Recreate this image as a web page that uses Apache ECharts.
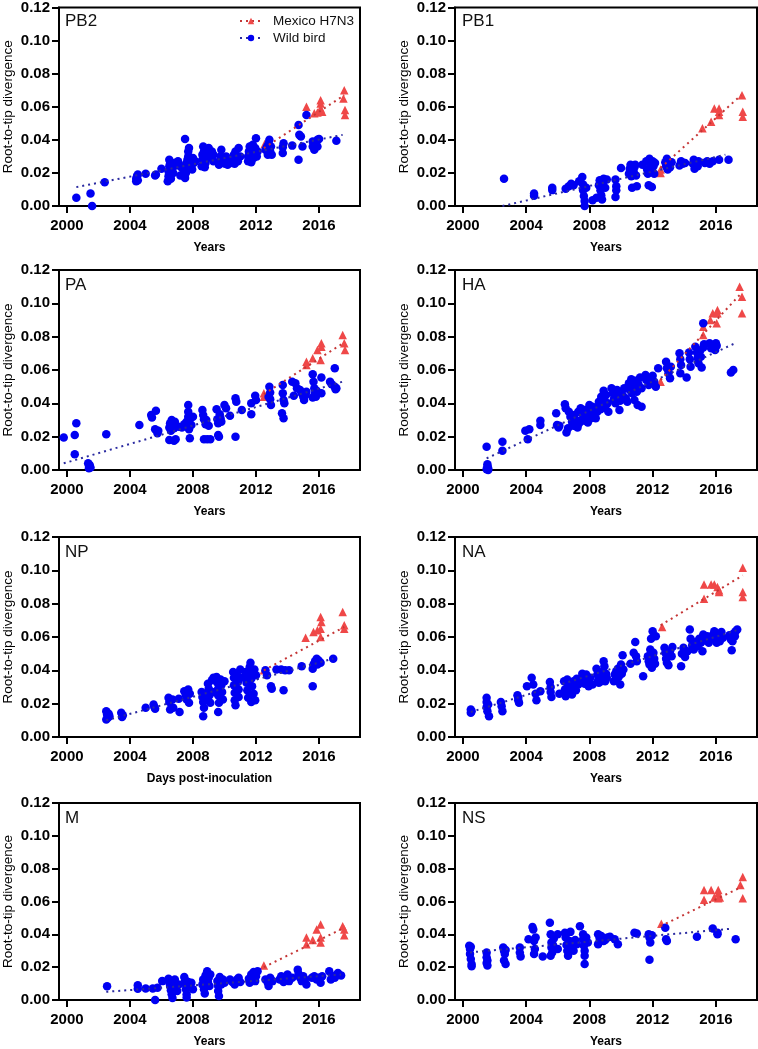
<!DOCTYPE html>
<html>
<head>
<meta charset="utf-8">
<script src="https://cdn.jsdelivr.net/npm/echarts@6/dist/echarts.min.js"></script>
<style>
html,body{margin:0;padding:0;background:#fff;}
#chart{width:758px;height:1049px;}
</style>
</head>
<body>
<div id="chart"></div>
<script>
// ---------------- DATA ----------------
const yearTicks = [2000, 2004, 2008, 2012, 2016];
const seriesNames = ['Mexico H7N3', 'Wild bird'];
const panelLabels = ['PB2', 'PB1', 'PA', 'HA', 'NP', 'NA', 'M', 'NS'];
const xAxisNames = ['Years', 'Years', 'Years', 'Years', 'Days post-inoculation', 'Years', 'Years', 'Years'];
const yAxisName = 'Root-to-tip divergence';

// PB2
const pb2Wild = [[2000.6,0.005],[2001.5,0.0076],[2001.6,0.0],[2002.4,0.0143],
[2004.4,0.015],[2004.4,0.0165],[2004.45,0.018],[2004.5,0.0155],[2004.5,0.019],
[2005.0,0.0195],[2005.6,0.0185],[2005.65,0.019],[2006.0,0.0225],
[2006.4,0.015],[2006.45,0.018],[2006.45,0.021],[2006.5,0.024],[2006.5,0.028],[2006.55,0.026],[2006.6,0.0165],[2006.65,0.022],[2006.75,0.02],[2006.85,0.026],[2006.95,0.0245],[2007.05,0.027],[2007.15,0.025],[2007.2,0.0185],[2007.3,0.023],
[2007.5,0.0405],[2007.5,0.017],[2007.55,0.02],[2007.6,0.023],[2007.6,0.026],[2007.65,0.028],[2007.7,0.030],[2007.7,0.033],[2007.75,0.035],[2007.8,0.024],[2007.85,0.027],[2007.95,0.022],[2008.0,0.029],[2008.05,0.026],[2008.15,0.027],
[2008.55,0.024],[2008.6,0.028],[2008.6,0.031],[2008.65,0.036],[2008.7,0.033],[2008.8,0.026],[2008.9,0.029],[2009.0,0.032],[2009.0,0.035],[2009.1,0.030],[2009.2,0.033],[2009.3,0.027],[2009.3,0.031],[2008.75,0.0235],
[2009.65,0.025],[2009.7,0.027],[2009.75,0.030],[2009.8,0.034],[2009.9,0.026],[2010.0,0.028],[2010.1,0.030],[2010.2,0.025],[2010.3,0.027],[2010.05,0.0255],
[2010.5,0.026],[2010.55,0.028],[2010.6,0.031],[2010.7,0.033],[2010.8,0.029],[2010.85,0.027],[2010.9,0.035],[2011.0,0.030],[2010.65,0.0255],
[2011.5,0.027],[2011.5,0.030],[2011.55,0.033],[2011.6,0.036],[2011.65,0.028],[2011.7,0.031],[2011.75,0.034],[2011.8,0.037],[2011.85,0.029],[2011.9,0.032],[2011.95,0.035],[2012.0,0.041],[2012.05,0.030],[2012.1,0.033],[2011.7,0.0265],
[2012.6,0.034],[2012.7,0.036],[2012.75,0.031],[2012.8,0.038],[2012.85,0.040],[2012.9,0.033],[2012.95,0.036],[2013.0,0.031],
[2013.7,0.032],[2013.7,0.0355],[2013.75,0.038],[2014.3,0.0365],
[2014.7,0.049],[2014.75,0.043],[2014.85,0.042],[2014.7,0.028],[2014.95,0.036],[2015.2,0.055],
[2015.6,0.036],[2015.6,0.039],[2015.7,0.034],[2015.8,0.038],[2015.9,0.036],[2015.9,0.040],[2016.0,0.0405],[2017.1,0.0395]];
const pb2Mexico = [[2012.55,0.0375],[2012.55,0.035],[2015.2,0.060],[2015.7,0.056],[2015.9,0.0565],[2016.1,0.064],[2016.1,0.062],[2016.1,0.059],[2016.2,0.057],[2017.6,0.070],[2017.55,0.065],[2017.65,0.058],[2017.65,0.055]];
const pb2WildTrend = [[2000.6,0.0114],[2017.5,0.043]];
const pb2MexicoTrend = [[2012.5,0.035],[2017.6,0.067]];

// PB1
const pb1Wild = [[2002.6,0.0165],[2004.5,0.0075],[2004.5,0.0062],[2005.65,0.011],[2005.65,0.0096],
[2006.5,0.0105],[2006.7,0.012],[2006.85,0.0135],[2007.0,0.0125],[2007.35,0.015],
[2007.55,0.0175],[2007.6,0.013],[2007.6,0.0095],[2007.65,0.006],[2007.7,0.003],[2007.7,0.0],[2007.8,0.011],
[2008.2,0.0035],[2008.45,0.005],[2008.6,0.0125],[2008.65,0.0155],[2008.7,0.0095],[2008.75,0.0065],[2008.8,0.004],[2008.85,0.0135],[2008.9,0.0165],[2009.1,0.016],[2009.0,0.011],
[2009.65,0.016],[2009.7,0.012],[2009.7,0.0095],[2009.65,0.0055],[2010.0,0.023],
[2010.5,0.0195],[2010.55,0.0225],[2010.6,0.025],[2010.65,0.018],[2010.7,0.011],[2010.8,0.0205],[2010.85,0.0235],[2010.9,0.025],[2010.95,0.0185],[2011.0,0.012],
[2011.35,0.025],[2011.6,0.027],[2011.65,0.022],[2011.7,0.0195],[2011.75,0.0125],[2011.8,0.0285],[2011.85,0.025],[2011.9,0.0215],[2011.95,0.0115],[2012.0,0.027],[2012.05,0.024],[2012.1,0.0195],[2012.15,0.026],
[2012.8,0.0265],[2012.85,0.024],[2012.9,0.0285],[2012.95,0.022],[2013.0,0.027],[2013.05,0.0255],[2013.1,0.0235],[2013.2,0.0265],
[2013.7,0.0245],[2013.8,0.027],[2013.9,0.0255],[2014.05,0.026],
[2014.55,0.0255],[2014.6,0.028],[2014.65,0.0225],[2014.7,0.0265],[2014.85,0.024],[2014.9,0.027],
[2015.3,0.026],[2015.45,0.027],[2015.6,0.0255],[2015.8,0.027],[2016.2,0.028],[2016.8,0.028]];
const pb1Mexico = [[2012.5,0.022],[2012.5,0.020],[2015.15,0.047],[2015.7,0.051],[2015.9,0.059],[2016.2,0.059],[2016.2,0.057],[2016.2,0.055],[2017.65,0.067],[2017.7,0.057],[2017.7,0.054]];
const pb1WildTrend = [[2002.5,0.0],[2016.6,0.031]];
const pb1MexicoTrend = [[2012.5,0.023],[2017.6,0.067]];

// PA
const paWild = [[1999.8,0.0195],[2000.5,0.0095],[2000.5,0.021],[2000.6,0.028],
[2001.35,0.004],[2001.4,0.0025],[2001.4,0.001],[2001.45,0.003],[2001.5,0.0015],
[2002.5,0.0215],[2004.6,0.027],
[2005.35,0.033],[2005.4,0.0315],[2005.65,0.0355],[2005.6,0.0245],[2005.75,0.022],[2005.8,0.0235],
[2006.5,0.018],[2006.5,0.0255],[2006.55,0.028],[2006.6,0.0235],[2006.65,0.03],[2006.7,0.027],[2006.8,0.0175],[2006.8,0.025],[2006.85,0.029],[2006.9,0.0185],
[2007.1,0.026],[2007.3,0.0255],[2007.45,0.0275],[2007.55,0.0265],[2007.6,0.029],[2007.7,0.039],[2007.7,0.035],[2007.7,0.032],[2007.75,0.0285],[2007.75,0.0245],[2007.8,0.019],[2007.85,0.031],[2007.9,0.027],[2008.0,0.032],
[2008.6,0.036],[2008.65,0.033],[2008.7,0.0305],[2008.7,0.0185],[2008.8,0.0275],[2008.85,0.03],[2008.9,0.0185],[2009.0,0.0265],[2009.1,0.0185],
[2009.5,0.0365],[2009.55,0.0305],[2009.6,0.028],[2009.6,0.021],[2009.7,0.0335],[2009.75,0.031],[2009.8,0.029],[2009.65,0.02],
[2010.0,0.039],[2010.1,0.037],[2010.35,0.0325],[2010.7,0.043],[2010.75,0.041],[2010.7,0.020],[2011.1,0.036],
[2011.7,0.040],[2011.7,0.0335],[2011.95,0.0445],[2012.0,0.042],
[2012.85,0.050],[2012.9,0.0465],[2012.9,0.0425],[2012.95,0.039],[2012.8,0.044],
[2013.7,0.051],[2013.7,0.046],[2013.75,0.042],[2013.65,0.034],[2013.75,0.031],[2013.8,0.040],
[2014.3,0.053],[2014.5,0.052],[2014.4,0.0445],[2014.6,0.049],
[2014.8,0.048],[2014.9,0.046],[2015.0,0.044],[2015.05,0.042],[2015.15,0.045],[2015.2,0.047],
[2015.6,0.0575],[2015.65,0.053],[2015.7,0.049],[2015.75,0.046],[2015.8,0.044],[2015.6,0.0435],[2015.85,0.0475],
[2016.15,0.0555],[2016.15,0.046],[2016.7,0.053],[2016.8,0.0515],[2017.0,0.061],[2017.0,0.050],[2017.1,0.049],[2017.05,0.0485]];
const paMexico = [[2012.5,0.046],[2012.5,0.044],[2015.2,0.065],[2015.2,0.063],[2015.6,0.067],[2015.9,0.072],[2016.1,0.066],[2016.15,0.076],[2016.15,0.074],[2017.5,0.081],[2017.6,0.076],[2017.65,0.072]];
const paWildTrend = [[1999.8,0.004],[2017.5,0.053]];
const paMexicoTrend = [[2012.5,0.0455],[2017.6,0.0765]];

// HA
const haWild = [[2001.5,0.014],[2001.55,0.0035],[2001.55,0.002],[2001.5,0.0005],[2001.6,0.0],[2001.6,0.001],
[2002.5,0.017],[2002.5,0.0115],
[2003.95,0.0235],[2004.1,0.0185],[2004.2,0.0245],[2004.9,0.0295],[2004.9,0.027],
[2005.9,0.034],[2005.95,0.027],[2006.05,0.0255],[2006.1,0.0265],
[2006.45,0.0395],[2006.5,0.037],[2006.55,0.0225],[2006.65,0.025],
[2006.7,0.035],[2006.8,0.032],[2006.9,0.029],[2007.0,0.0265],[2007.05,0.033],[2007.15,0.030],[2007.25,0.0255],[2007.3,0.035],[2007.35,0.028],
[2007.45,0.037],[2007.55,0.034],[2007.6,0.031],[2007.7,0.0295],[2007.75,0.036],[2007.85,0.033],[2007.9,0.0285],[2008.0,0.039],[2008.05,0.035],[2008.1,0.031],[2008.2,0.038],[2008.2,0.033],
[2008.4,0.031],[2008.5,0.035],[2008.55,0.038],[2008.6,0.041],[2008.7,0.0365],[2008.75,0.044],[2008.8,0.0395],[2008.9,0.0475],[2008.95,0.042],[2009.0,0.037],[2009.05,0.045],[2009.15,0.040],[2009.2,0.035],
[2009.4,0.049],[2009.5,0.046],[2009.55,0.0425],[2009.65,0.040],[2009.75,0.048],[2009.8,0.044],[2009.9,0.036],[2009.95,0.0415],[2010.1,0.045],[2010.2,0.049],[2010.3,0.043],[2010.4,0.041],
[2010.5,0.052],[2010.55,0.048],[2010.65,0.0545],[2010.7,0.046],[2010.8,0.050],[2010.85,0.042],[2010.9,0.0535],[2011.0,0.047],[2011.05,0.039],[2011.1,0.0515],[2011.2,0.0555],[2011.3,0.049],[2011.3,0.038],
[2011.55,0.057],[2011.6,0.054],[2011.75,0.051],[2011.85,0.055],[2012.0,0.0565],[2012.1,0.053],[2012.2,0.050],
[2012.35,0.061],[2012.85,0.065],[2012.9,0.061],[2013.0,0.058],[2013.1,0.055],[2013.15,0.062],
[2013.7,0.070],[2013.75,0.0665],[2013.8,0.063],[2013.75,0.058],[2014.15,0.0555],[2014.3,0.0705],[2014.35,0.0665],[2014.4,0.062],
[2014.7,0.074],[2014.8,0.0705],[2014.85,0.067],[2014.9,0.064],[2015.0,0.0715],[2015.05,0.068],[2015.1,0.0615],[2015.2,0.0735],[2015.25,0.0755],[2015.2,0.088],
[2015.6,0.076],[2015.7,0.073],[2015.8,0.0745],[2015.95,0.072],[2016.0,0.076],[2016.05,0.0745],
[2016.95,0.0585],[2017.1,0.060]];
const haMexico = [[2012.5,0.053],[2015.2,0.081],[2015.2,0.086],[2015.65,0.090],[2015.8,0.094],[2016.1,0.096],[2016.1,0.094],[2016.05,0.088],[2017.5,0.110],[2017.65,0.104],[2017.65,0.094]];
const haWildTrend = [[2001.5,0.007],[2017.2,0.076]];
const haMexicoTrend = [[2012.5,0.054],[2017.6,0.106]];

// NP
const npWild = [[2002.5,0.0155],[2002.55,0.0135],[2002.6,0.0115],[2002.5,0.0105],[2002.7,0.0125],[2002.65,0.014],
[2003.45,0.0145],[2003.5,0.012],[2003.55,0.013],
[2005.0,0.0175],[2005.5,0.0195],[2005.6,0.017],[2005.55,0.018],
[2006.45,0.0235],[2006.5,0.021],[2006.55,0.0165],[2006.7,0.0225],[2006.75,0.0175],
[2007.1,0.023],[2007.15,0.015],
[2007.45,0.0275],[2007.55,0.025],[2007.6,0.0225],[2007.7,0.0285],[2007.75,0.0205],[2007.8,0.026],
[2008.55,0.027],[2008.6,0.024],[2008.65,0.021],[2008.7,0.0175],[2008.65,0.0125],[2008.8,0.0225],[2008.85,0.0255],
[2008.95,0.032],[2009.0,0.029],[2009.05,0.025],[2009.1,0.0205],[2009.2,0.034],[2009.25,0.027],[2009.3,0.0355],
[2009.5,0.036],[2009.55,0.0325],[2009.6,0.029],[2009.6,0.025],[2009.65,0.0205],[2009.6,0.015],[2009.75,0.0345],[2009.8,0.031],[2009.85,0.027],[2009.9,0.0225],[2010.0,0.0335],
[2010.55,0.039],[2010.6,0.0355],[2010.6,0.031],[2010.65,0.0265],[2010.65,0.022],[2010.7,0.019],[2010.8,0.037],[2010.85,0.033],[2010.9,0.0285],[2010.9,0.024],[2011.0,0.0405],[2011.05,0.0355],
[2011.3,0.036],[2011.35,0.039],[2011.4,0.0325],[2011.45,0.028],[2011.5,0.0235],[2011.55,0.0375],[2011.6,0.042],[2011.65,0.0445],[2011.7,0.035],[2011.7,0.021],[2011.75,0.0305],[2011.8,0.0385],[2011.85,0.026],[2011.9,0.0405],[2011.95,0.022],[2012.0,0.037],
[2012.6,0.040],[2012.7,0.037],[2013.0,0.029],[2012.95,0.0305],[2013.3,0.0405],[2013.6,0.0405],[2013.75,0.028],[2013.85,0.040],[2014.1,0.040],
[2014.9,0.0425],[2015.6,0.0305],
[2015.6,0.041],[2015.65,0.0435],[2015.75,0.0455],[2015.85,0.047],[2015.9,0.0435],[2015.95,0.046],[2016.05,0.045],[2016.1,0.0445],[2016.9,0.047]];
const npMexico = [[2012.5,0.040],[2015.15,0.0595],[2015.65,0.063],[2015.9,0.064],[2016.1,0.072],[2016.15,0.069],[2016.1,0.065],[2016.1,0.060],[2017.5,0.075],[2017.6,0.067],[2017.6,0.065]];
const npWildTrend = [[2002.5,0.010],[2016.9,0.047]];
const npMexicoTrend = [[2012.5,0.040],[2017.6,0.066]];

// NA
const naWild = [[2000.5,0.0165],[2000.5,0.0145],[2000.55,0.0155],
[2001.5,0.0235],[2001.5,0.021],[2001.5,0.018],[2001.55,0.0155],[2001.65,0.0125],[2001.6,0.0195],
[2002.4,0.021],[2002.45,0.0185],[2002.5,0.0155],
[2003.45,0.025],[2003.5,0.022],[2003.55,0.0205],[2003.5,0.0235],
[2004.05,0.0305],[2004.35,0.0355],[2004.45,0.0315],[2004.6,0.026],[2004.65,0.022],[2004.9,0.0275],
[2005.5,0.033],[2005.55,0.030],[2005.55,0.027],[2005.6,0.024],[2006.1,0.026],
[2006.4,0.0335],[2006.45,0.0285],[2006.5,0.0245],[2006.6,0.0345],[2006.65,0.031],[2006.7,0.027],[2006.8,0.0325],[2006.85,0.0295],[2006.9,0.0255],[2007.0,0.0335],[2007.05,0.031],[2007.15,0.028],[2007.2,0.035],[2007.3,0.0315],
[2007.55,0.038],[2007.6,0.0345],[2007.7,0.032],[2007.8,0.0375],[2007.85,0.033],[2007.95,0.0305],[2008.05,0.0355],[2008.2,0.0315],
[2008.45,0.041],[2008.5,0.0375],[2008.55,0.034],[2008.6,0.0325],[2008.7,0.036],[2008.75,0.0335],[2008.8,0.039],[2008.9,0.0455],[2008.95,0.0425],[2009.0,0.0335],[2009.05,0.038],[2009.1,0.0355],
[2009.55,0.0335],[2009.6,0.0375],[2009.7,0.0395],[2009.8,0.041],[2009.85,0.036],[2009.95,0.0315],[2010.0,0.0435],[2010.05,0.038],[2010.1,0.049],[2010.15,0.0405],
[2010.6,0.044],[2010.8,0.0505],[2010.9,0.057],[2010.95,0.0485],[2011.0,0.0455],
[2011.4,0.0365],[2011.7,0.0485],[2011.75,0.0455],[2011.8,0.0435],[2011.85,0.0525],[2011.9,0.059],[2011.95,0.0415],[2012.0,0.0635],[2012.05,0.0505],[2012.1,0.047],[2012.15,0.044],[2012.2,0.0605],
[2012.75,0.0535],[2012.8,0.0505],[2012.85,0.047],[2012.9,0.0445],[2013.0,0.043],[2013.1,0.0515],[2013.2,0.0485],[2013.25,0.054],
[2013.8,0.0425],[2013.85,0.050],[2013.95,0.0535],[2014.05,0.048],[2014.2,0.0515],
[2014.35,0.0645],[2014.4,0.059],[2014.5,0.055],[2014.6,0.0525],[2014.75,0.057],[2014.85,0.0545],[2014.95,0.059],[2015.05,0.0565],[2015.15,0.0515],[2015.2,0.0615],[2015.3,0.058],[2015.45,0.0605],[2015.55,0.0565],[2015.65,0.059],[2015.8,0.061],
[2015.9,0.0635],[2016.0,0.0585],[2016.05,0.0565],[2016.1,0.062],[2016.2,0.0605],[2016.25,0.0575],[2016.35,0.063],[2016.45,0.0595],
[2016.85,0.061],[2016.95,0.0585],[2017.0,0.052],[2017.05,0.0575],[2017.1,0.062],[2017.2,0.0605],[2017.25,0.0635],[2017.35,0.0645]];
const naMexico = [[2012.6,0.066],[2015.25,0.083],[2015.25,0.0915],[2015.7,0.0915],[2015.9,0.0915],[2016.1,0.090],[2016.2,0.088],[2016.2,0.087],[2017.7,0.1015],[2017.7,0.087],[2017.7,0.084]];
const naWildTrend = [[2000.5,0.015],[2017.3,0.064]];
const naMexicoTrend = [[2012.5,0.067],[2017.7,0.097]];

// M
const mWild = [[2002.55,0.0084],[2004.5,0.009],[2004.5,0.0068],[2005.0,0.007],[2005.45,0.007],[2005.6,0.0],[2005.75,0.0075],
[2006.05,0.0115],[2006.45,0.013],[2006.5,0.0105],[2006.55,0.0085],[2006.6,0.006],[2006.65,0.0035],[2006.7,0.0012],[2006.75,0.0095],[2006.85,0.0125],[2006.9,0.0075],[2007.0,0.0055],[2007.1,0.0095],
[2007.45,0.014],[2007.5,0.012],[2007.55,0.0095],[2007.55,0.0065],[2007.6,0.0035],[2007.6,0.0015],[2007.7,0.011],[2007.8,0.008],[2007.9,0.0105],[2008.0,0.0065],
[2008.6,0.0095],[2008.65,0.0125],[2008.7,0.0065],[2008.75,0.004],[2008.8,0.015],[2008.9,0.0175],[2008.95,0.011],[2009.0,0.0135],[2009.05,0.0085],[2009.1,0.0155],
[2009.55,0.0115],[2009.6,0.0085],[2009.6,0.0055],[2009.65,0.0025],[2009.7,0.014],[2009.8,0.0095],[2009.9,0.0125],[2010.0,0.0105],
[2010.35,0.0125],[2010.5,0.011],[2010.65,0.0095],[2010.8,0.0125],[2011.0,0.011],[2010.9,0.0135],
[2011.55,0.013],[2011.6,0.0105],[2011.7,0.0155],[2011.75,0.012],[2011.85,0.017],[2011.95,0.0115],[2012.0,0.0145],[2012.1,0.0175],
[2012.6,0.0125],[2012.75,0.0105],[2012.8,0.0085],[2012.9,0.0135],[2013.05,0.0115],
[2013.5,0.0125],[2013.6,0.0145],[2013.75,0.011],[2013.9,0.0135],[2014.0,0.0155],[2014.1,0.0115],[2014.3,0.0135],
[2014.65,0.0185],[2014.7,0.016],[2014.8,0.0135],[2014.9,0.0115],[2015.0,0.0145],[2015.1,0.0125],[2015.2,0.0095],
[2015.55,0.0135],[2015.7,0.0145],[2015.85,0.0125],[2016.0,0.0135],[2016.1,0.0105],[2016.2,0.0145],
[2016.65,0.0175],[2016.75,0.0125],[2016.9,0.0145],[2017.0,0.0135],[2017.2,0.0165],[2017.4,0.015]];
const mMexico = [[2012.5,0.021],[2015.2,0.038],[2015.2,0.034],[2015.6,0.0365],[2015.85,0.043],[2016.1,0.046],[2016.1,0.038],[2016.1,0.035],[2017.5,0.045],[2017.6,0.043],[2017.6,0.0395]];
const mWildTrend = [[2002.5,0.005],[2017.4,0.0155]];
const mMexicoTrend = [[2012.5,0.020],[2017.6,0.044]];

// NS
const nsWild = [[2000.4,0.033],[2000.45,0.031],[2000.45,0.028],[2000.5,0.025],[2000.55,0.022],[2000.55,0.0205],[2000.5,0.0325],
[2001.5,0.029],[2001.5,0.026],[2001.55,0.024],[2001.55,0.021],[2001.5,0.0225],
[2002.55,0.032],[2002.6,0.030],[2002.65,0.028],[2002.6,0.024],[2002.7,0.022],[2002.7,0.0305],
[2003.6,0.032],[2003.6,0.029],[2003.65,0.0265],
[2004.15,0.037],[2004.4,0.0445],[2004.45,0.043],[2004.5,0.036],[2004.55,0.031],[2004.5,0.028],[2004.6,0.038],
[2005.05,0.0265],
[2005.5,0.047],[2005.55,0.040],[2005.6,0.035],[2005.6,0.032],[2005.65,0.029],[2005.55,0.027],[2005.7,0.0335],[2005.75,0.0375],
[2006.0,0.040],[2006.0,0.031],
[2006.45,0.041],[2006.5,0.038],[2006.55,0.0335],[2006.6,0.030],[2006.65,0.027],[2006.75,0.036],[2006.8,0.0415],[2006.85,0.032],[2006.9,0.0345],[2007.0,0.030],[2007.1,0.0365],[2007.2,0.034],
[2007.4,0.045],[2007.6,0.040],[2007.6,0.037],[2007.65,0.033],[2007.7,0.030],[2007.7,0.027],[2007.7,0.022],[2007.8,0.038],[2007.9,0.035],
[2008.55,0.040],[2008.55,0.034],[2008.65,0.0375],[2008.75,0.039],[2008.9,0.036],[2009.0,0.0365],[2009.15,0.038],[2009.3,0.0385],
[2009.6,0.037],[2009.8,0.034],[2010.85,0.041],[2011.0,0.0405],
[2011.75,0.040],[2011.8,0.038],[2011.85,0.035],[2011.95,0.0395],[2011.8,0.0245],
[2012.8,0.044],[2012.85,0.037],[2012.9,0.036],[2014.8,0.0385],[2015.8,0.0435],[2016.1,0.041],[2016.1,0.040],[2017.25,0.037]];
const nsMexico = [[2012.55,0.0465],[2015.25,0.067],[2015.25,0.061],[2015.7,0.067],[2015.9,0.0625],[2016.15,0.067],[2016.15,0.065],[2016.15,0.062],[2016.25,0.0625],[2017.55,0.070],[2017.7,0.075],[2017.7,0.062]];
const nsWildTrend = [[2000.45,0.029],[2017.05,0.0435]];
const nsMexicoTrend = [[2012.5,0.045],[2017.65,0.069]];

const wildSets = [pb2Wild, pb1Wild, paWild, haWild, npWild, naWild, mWild, nsWild];
const mexicoSets = [pb2Mexico, pb1Mexico, paMexico, haMexico, npMexico, naMexico, mMexico, nsMexico];
const wildTrends = [pb2WildTrend, pb1WildTrend, paWildTrend, haWildTrend, npWildTrend, naWildTrend, mWildTrend, nsWildTrend];
const mexicoTrends = [pb2MexicoTrend, pb1MexicoTrend, paMexicoTrend, haMexicoTrend, npMexicoTrend, naMexicoTrend, mMexicoTrend, nsMexicoTrend];

// ---------------- LAYOUT / STYLE ----------------
const gridPos = [
  {left: 58, top: 6}, {left: 455, top: 6},
  {left: 58, top: 270}, {left: 455, top: 270},
  {left: 58, top: 537}, {left: 455, top: 537},
  {left: 58, top: 803}, {left: 455, top: 803}
];
const GW = 302, GH = 200;
const FONT = '"Liberation Sans", Arial, Helvetica, sans-serif';
const BLUE = '#0000f2', RED = '#ef4848';
const BLUE_LINE = '#2a2aa0', RED_LINE = '#c53535';

const grids = [], xAxes = [], yAxes = [], series = [], titles = [];
gridPos.forEach((g, i) => {
  grids.push({left: g.left, top: g.top, width: GW, height: GH, show: true,
    borderColor: '#000', borderWidth: 2, backgroundColor: 'transparent'});
  xAxes.push({
    type: 'value', gridIndex: i, min: 1999.5, max: 2018.6,
    name: xAxisNames[i], nameLocation: 'middle', nameGap: 36,
    nameTextStyle: {fontFamily: FONT, fontSize: 12, fontWeight: 'bold', color: '#000'},
    axisLine: {show: true, onZero: false, lineStyle: {color: '#000', width: 2}},
    axisTick: {show: true, length: 7, lineStyle: {color: '#000', width: 2}, customValues: yearTicks},
    axisLabel: {fontFamily: FONT, fontSize: 15, fontWeight: 'bold', color: '#000', margin: 12,
      customValues: yearTicks, formatter: v => String(Math.round(v))},
    splitLine: {show: false}
  });
  yAxes.push({
    type: 'value', gridIndex: i, min: 0, max: 0.12, interval: 0.02,
    name: yAxisName, nameLocation: 'middle', nameGap: 44, nameRotate: 90,
    nameTextStyle: {fontFamily: FONT, fontSize: 13.5, color: '#000'},
    axisLine: {show: true, onZero: false, lineStyle: {color: '#000', width: 2}},
    axisTick: {show: true, length: 7, lineStyle: {color: '#000', width: 2}},
    axisLabel: {fontFamily: FONT, fontSize: 15, fontWeight: 'bold', color: '#000', margin: 9,
      formatter: v => v.toFixed(2)},
    splitLine: {show: false}
  });
  titles.push({text: panelLabels[i], left: g.left + 7, top: g.top + 7, padding: 0,
    textStyle: {fontFamily: FONT, fontSize: 17, fontWeight: 'normal', color: '#111'}});

  series.push({
    type: 'scatter', name: panelLabels[i] + ' ' + seriesNames[0] + ' pts', xAxisIndex: i, yAxisIndex: i,
    data: mexicoSets[i], symbol: 'triangle', symbolSize: 8.5,
    itemStyle: {color: RED, opacity: 1}, z: 2, silent: true
  });
  series.push({
    type: 'scatter', name: panelLabels[i] + ' ' + seriesNames[1] + ' pts', xAxisIndex: i, yAxisIndex: i,
    data: wildSets[i], symbol: 'circle', symbolSize: 8.5,
    itemStyle: {color: BLUE, opacity: 1}, z: 3, silent: true
  });
  series.push({
    type: 'line', name: i === 0 ? seriesNames[0] : panelLabels[i] + ' mexico trend', xAxisIndex: i, yAxisIndex: i,
    data: mexicoTrends[i], showSymbol: false, symbol: 'triangle',
    lineStyle: {color: RED_LINE, width: 2, type: [2, 4]}, itemStyle: {color: RED},
    z: 4, silent: true
  });
  series.push({
    type: 'line', name: i === 0 ? seriesNames[1] : panelLabels[i] + ' wild trend', xAxisIndex: i, yAxisIndex: i,
    data: wildTrends[i], showSymbol: false, symbol: 'circle',
    lineStyle: {color: BLUE_LINE, width: 2, type: [2, 4]}, itemStyle: {color: BLUE},
    z: 4, silent: true
  });
});

const chart = echarts.init(document.getElementById('chart'), null, {renderer: 'canvas'});
chart.setOption({
  animation: false,
  backgroundColor: '#fff',
  title: titles,
  legend: {
    data: seriesNames, orient: 'vertical', left: 234, top: 9,
    itemWidth: 22, itemHeight: 8, itemGap: 3, selectedMode: false,
    textStyle: {fontFamily: FONT, fontSize: 13.5, color: '#111', padding: [0, 0, 0, 6]}
  },
  grid: grids, xAxis: xAxes, yAxis: yAxes, series: series
});
</script>
</body>
</html>
